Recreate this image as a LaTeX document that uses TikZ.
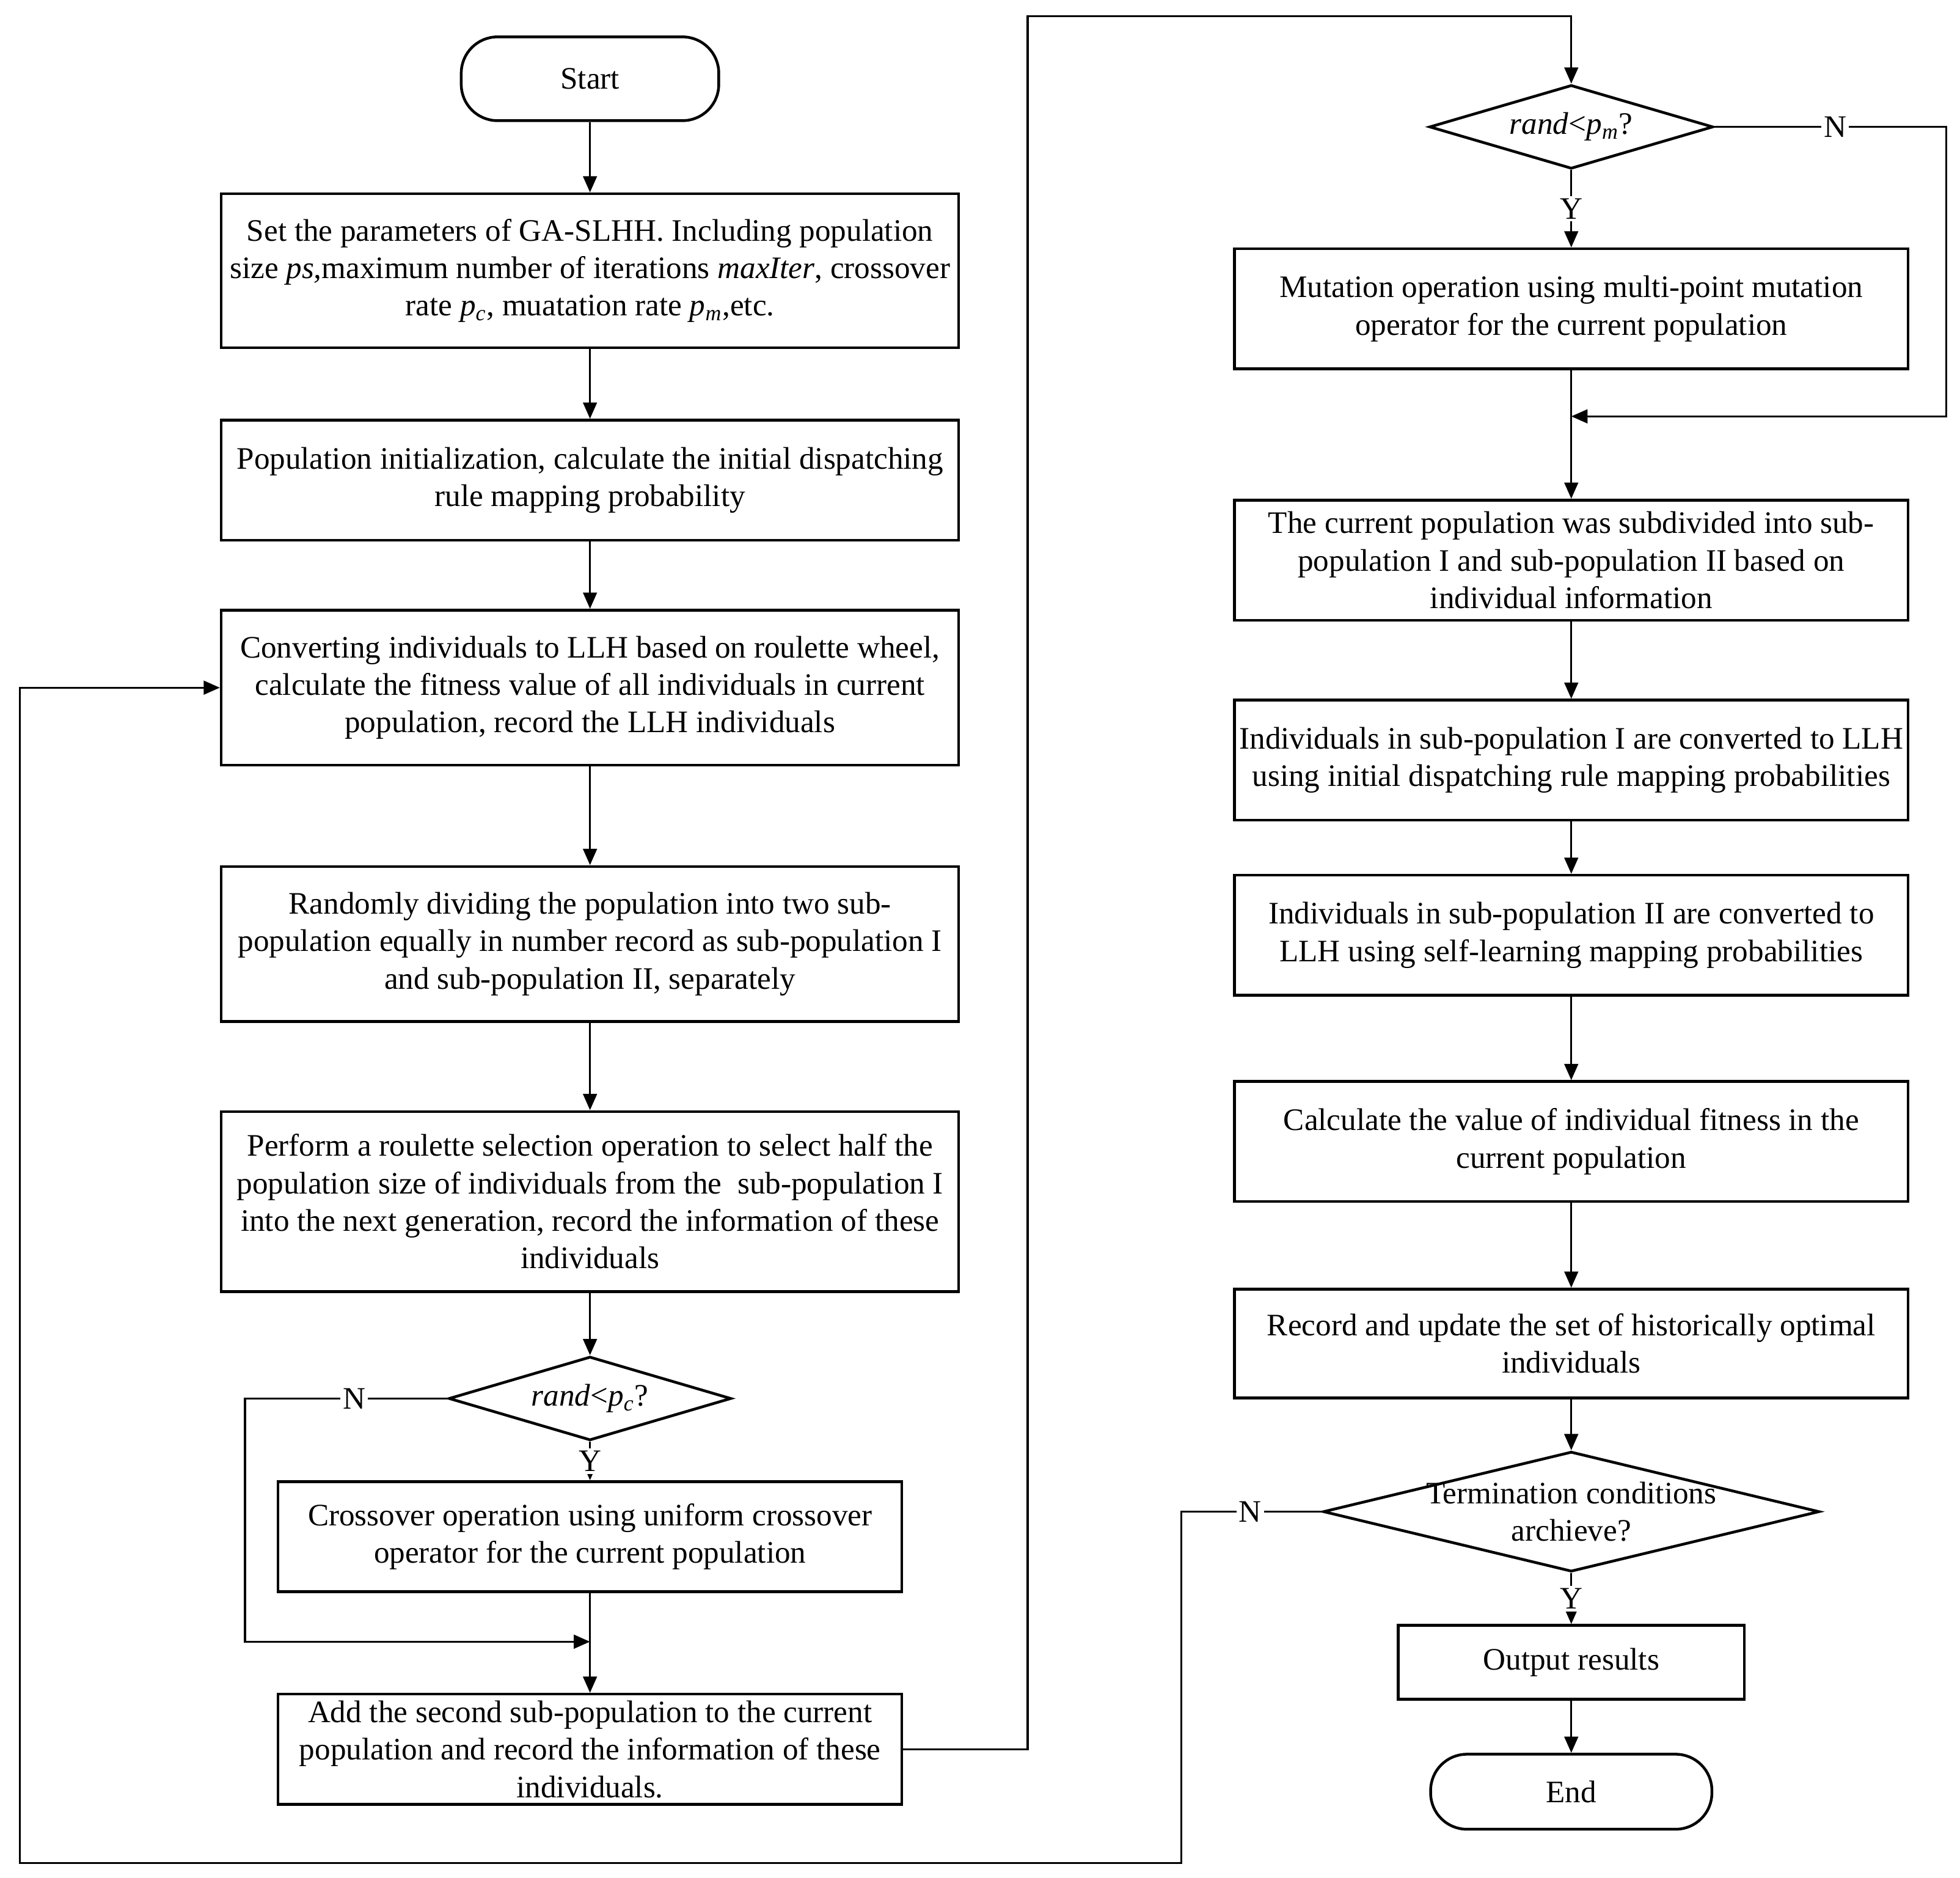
\documentclass[tikz,border=0pt]{standalone}
\usepackage{fontspec}
\setmainfont{Liberation Serif}
\usetikzlibrary{shapes.geometric,arrows.meta}
\newcommand{\isub}[1]{\textsubscript{\textit{#1}}}
\begin{document}
\begin{tikzpicture}[x=0.5pt,y=-0.5pt,
 every node/.style={font=\fontsize{12.5}{15}\selectfont},
 box/.style={draw,line width=1.1pt,rectangle,align=center,inner sep=0pt,minimum width=295pt},
 rbox/.style={box,minimum width=269.5pt},
 term/.style={draw,line width=1.1pt,rounded corners=14.5pt,inner sep=0pt,align=center},
 dia/.style={draw,line width=1.1pt,diamond,inner sep=0pt},
 conn/.style={line width=0.85pt,-{Triangle[length=6.5pt,width=5.5pt]}},
 yn/.style={fill=white,inner sep=1pt}]
\useasboundingbox (0,0) rectangle (1568,1502);
% left column
\node[term,minimum width=103pt,minimum height=33.5pt] (start) at (472,63) {Start};
\node[box,minimum height=61.5pt] (b1) at (472,216.5) {Set the parameters of GA-SLHH. Including population\\ size \textit{ps,}maximum number of iterations \textit{maxIter}, crossover\\ rate \textit{p}\isub{c}, muatation rate \textit{p}\isub{m},etc.};
\node[box,minimum height=48pt] (b2) at (472,384) {Population initialization, calculate the initial dispatching\\ rule mapping probability};
\node[box,minimum height=62pt] (b3) at (472,550) {Converting individuals to LLH based on roulette wheel,\\ calculate the fitness value of all individuals in current\\ population, record the LLH individuals};
\node[box,minimum height=62pt] (b4) at (472,755) {Randomly dividing the population into two sub-\\population equally in number record as sub-population I\\ and sub-population II, separately};
\node[box,minimum height=72pt] (b5) at (472,961) {Perform a roulette selection operation to select half the\\ population size of individuals from the\ \ sub-population I\\ into the next generation, record the information of these\\ individuals};
\node[dia,minimum width=113pt,minimum height=33.5pt] (d1) at (472,1118.5) {};
\node (d1t) at (d1) {\textit{rand}<\textit{p}\isub{c}?};
\node[box,minimum width=249.5pt,minimum height=44pt] (b6) at (472,1229) {Crossover operation using uniform crossover\\ operator for the current population};
\node[box,minimum width=249.5pt,minimum height=44pt] (b7) at (472,1399) {Add the second sub-population to the current\\ population and record the information of these\\ individuals.};
% right column
\node[dia,minimum width=113.5pt,minimum height=33.5pt] (d2) at (1257,101.5) {};
\node (d2t) at (d2) {\textit{rand}<\textit{p}\isub{m}?};
\node[rbox,minimum height=48pt] (b8) at (1257,247) {Mutation operation using multi-point mutation\\ operator for the current population};
\node[rbox,minimum height=48pt] (b9) at (1257,448) {The current population was subdivided into sub-\\population I and sub-population II based on\\ individual information};
\node[rbox,minimum height=48pt] (b10) at (1257,608) {Individuals in sub-population I are converted to LLH\\ using initial dispatching rule mapping probabilities};
\node[rbox,minimum height=48pt] (b11) at (1257,748) {Individuals in sub-population II are converted to\\ LLH using self-learning mapping probabilities};
\node[rbox,minimum height=48pt] (b12) at (1257,913) {Calculate the value of individual fitness in the\\ current population};
\node[rbox,minimum height=43.5pt] (b13) at (1257,1074.5) {Record and update the set of historically optimal\\ individuals};
\node[dia,minimum width=198.5pt,minimum height=48pt] (d3) at (1257,1209) {};
\node[align=center] (d3t) at (d3) {Termination conditions\\ archieve?};
\node[box,minimum width=138.5pt,minimum height=29.5pt] (b14) at (1257,1329.5) {Output results};
\node[term,minimum width=112.5pt,minimum height=30pt] (end) at (1257,1433) {End};
% coordinates
\coordinate (m1) at (472,1313);
\coordinate (m2) at (1257,333);
\coordinate (c1) at (822,13);
\coordinate (c2) at (16,1490);
% connectors left
\draw[conn] (start) -- (b1);
\draw[conn] (b1) -- (b2);
\draw[conn] (b2) -- (b3);
\draw[conn] (b3) -- (b4);
\draw[conn] (b4) -- (b5);
\draw[conn] (b5) -- (d1);
\draw[conn] (d1) -- node[yn]{Y} (b6);
\draw[conn] (b6) -- (b7);
\draw[conn] (d1.west) -- node[yn,pos=0.46]{N} (196,1118.5) |- (m1);
\draw[conn] (b7.east) -| (c1) -| (d2.north);
% connectors right
\draw[conn] (d2) -- node[yn]{Y} (b8);
\draw[conn] (d2.east) -- node[yn,pos=0.52]{N} (1557,101.5) |- (m2);
\draw[conn] (b8) -- (b9);
\draw[conn] (b9) -- (b10);
\draw[conn] (b10) -- (b11);
\draw[conn] (b11) -- (b12);
\draw[conn] (b12) -- (b13);
\draw[conn] (b13) -- (d3);
\draw[conn] (d3) -- node[yn]{Y} (b14);
\draw[conn] (b14) -- (end);
\draw[conn] (d3.west) -- node[yn,pos=0.51]{N} (945,1209) |- (c2) |- (b3.west);
\end{tikzpicture}
\end{document}
